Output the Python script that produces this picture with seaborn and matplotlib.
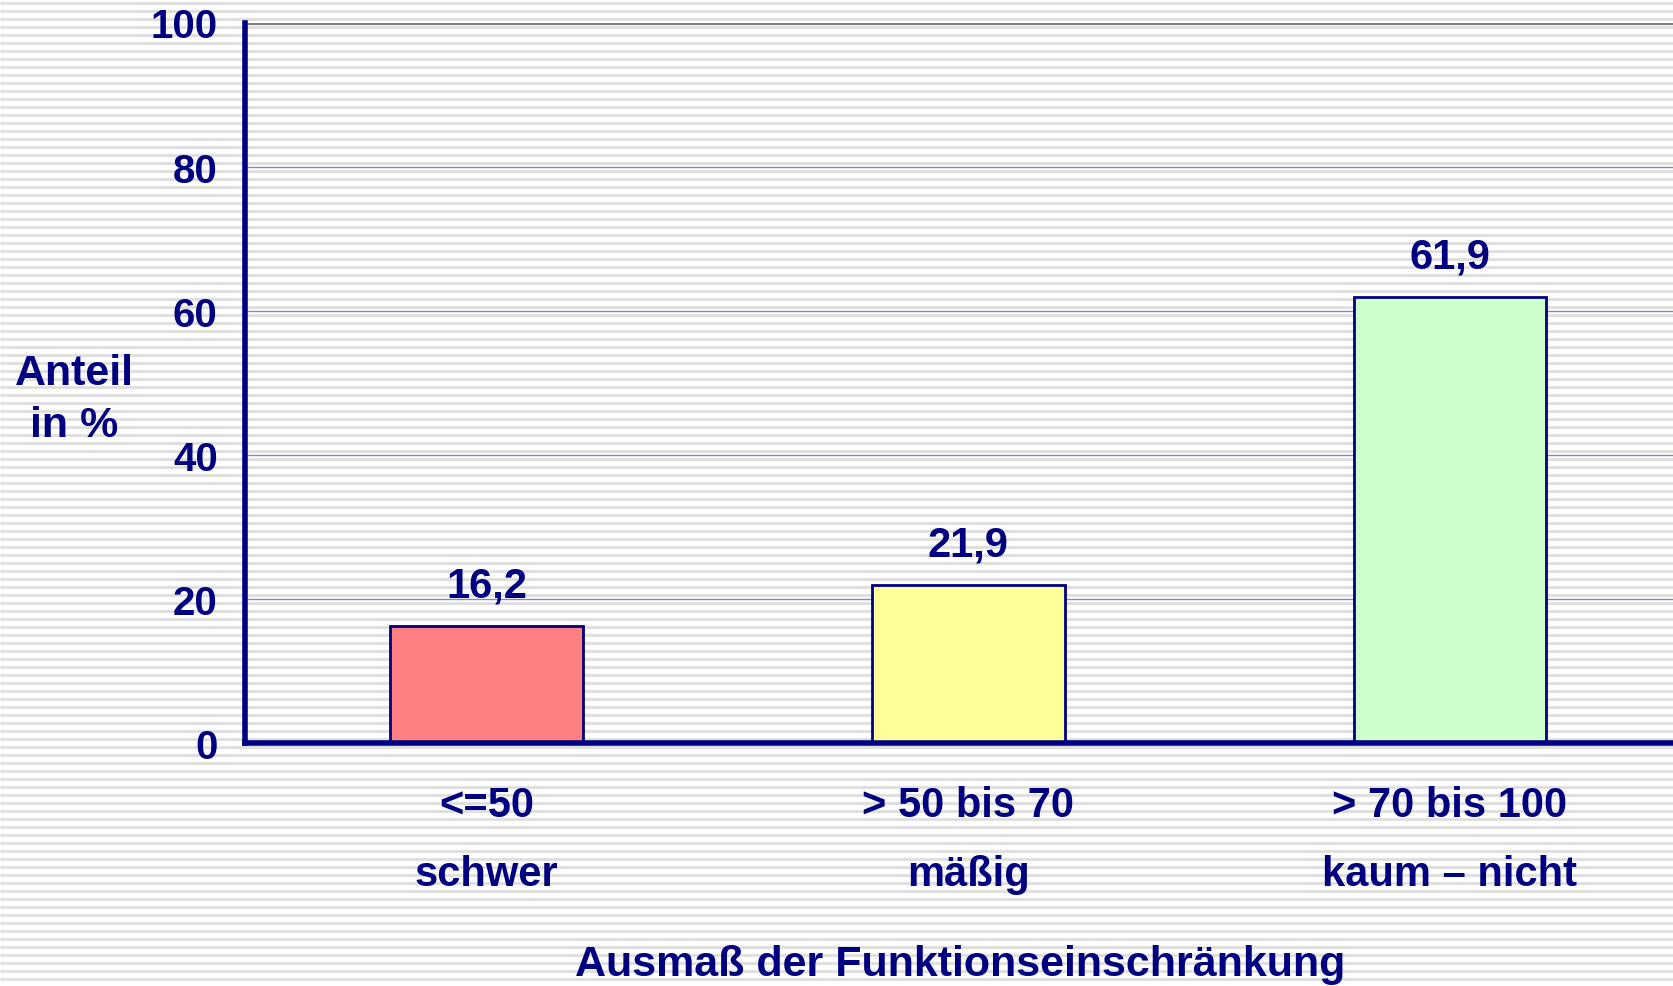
import matplotlib
matplotlib.use("Agg")
import matplotlib.pyplot as plt
import seaborn as sns
import numpy as np
import pandas as pd

categories = ["<=50\nschwer", "> 50 bis 70\nmäßig", "> 70 bis 100\nkaum – nicht"]
values = [16.2, 21.9, 61.9]
value_labels = ["16,2", "21,9", "61,9"]
colors = ["#FF8080", "#FFFF99", "#CCFFCC"]
yticks = [0, 20, 40, 60, 80, 100]

sns.set_theme(style="white")
plt.rcParams['font.family'] = ['Liberation Sans', 'DejaVu Sans']
NAVY = "#000080"

W, H = 1674, 987
fig = plt.figure(figsize=(W / 100, H / 100), dpi=100)
fig.patch.set_facecolor("white")

# striped background
bg = fig.add_axes([0, 0, 1, 1], zorder=0)
bg.set_xlim(0, W)
bg.set_ylim(H, 0)
bg.axis("off")
bg.hlines(np.arange(4, H, 8), 0, W, color="#dedede", linewidth=2.0)

left = 245.5 / W
bottom = 1 - 744 / H
top = 1 - 23.5 / H
ax = fig.add_axes([left, bottom, 1 - left, top - bottom], zorder=1)
ax.set_facecolor("none")

df = pd.DataFrame({"cat": categories, "val": values})
sns.barplot(data=df, x="cat", y="val", hue="cat", palette=colors, legend=False,
            width=0.4, edgecolor=NAVY, linewidth=2, ax=ax, saturation=1)

ax.set_xlim(-0.5, 2.465)
ax.set_ylim(0, 100)
ax.set_yticks(yticks)
ax.set_yticklabels([str(t) for t in yticks], fontsize=29, fontweight="bold", color=NAVY)
ax.tick_params(axis="y", length=0, pad=20)
ax.tick_params(axis="x", length=0, pad=30)
for lbl in ax.get_xticklabels():
    lbl.set_fontsize(30)
    lbl.set_fontweight("bold")
    lbl.set_color(NAVY)
    lbl.set_linespacing(1.95)

for t in [20, 40, 60, 80]:
    ax.axhline(t, color="#8888bb", linewidth=1, zorder=0.5)
ax.axhline(100, color="#808080", linewidth=3, zorder=0.5)

for s in ["top", "right"]:
    ax.spines[s].set_visible(False)
ax.spines["left"].set_color(NAVY)
ax.spines["left"].set_linewidth(4)
ax.spines["bottom"].set_color(NAVY)
ax.spines["bottom"].set_linewidth(4)
ax.spines["left"].set_zorder(5)
ax.spines["bottom"].set_zorder(5)

for i, (v, lab) in enumerate(zip(values, value_labels)):
    ax.annotate(lab, (i, v), xytext=(0, 15), textcoords="offset points",
                ha="center", va="bottom", fontsize=30, fontweight="bold", color=NAVY)

ax.set_xlabel("Ausmaß der Funktionseinschränkung", fontsize=31, fontweight="bold",
              color=NAVY, labelpad=36)
ax.set_ylabel("")
fig.text(74 / W, 1 - 400 / H, "Anteil\nin %", ha="center", va="center",
         fontsize=31, fontweight="bold", color=NAVY, linespacing=1.4)

fig.savefig("out.png", dpi=100, facecolor=fig.get_facecolor())
